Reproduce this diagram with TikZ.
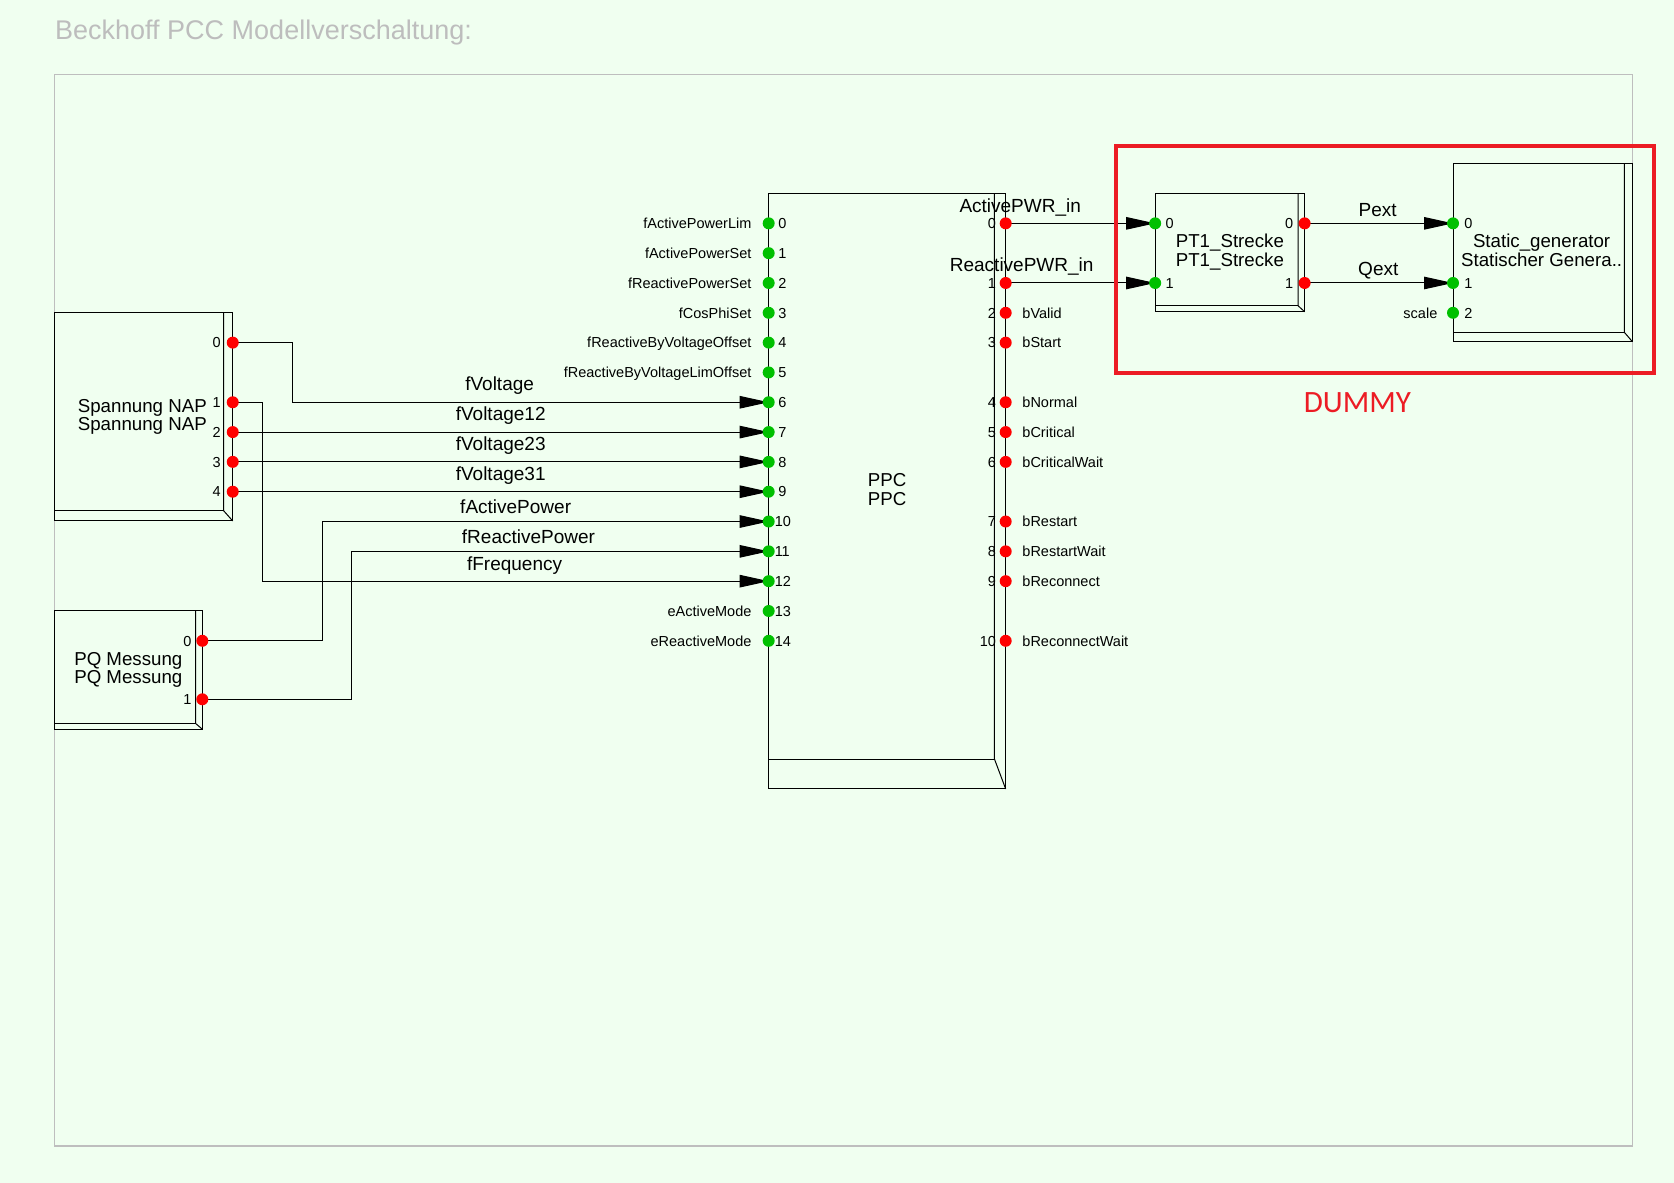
\documentclass[tikz,border=0pt]{standalone}
\usepackage{fontspec}
\setmainfont{Liberation Sans}
\newfontfamily\dummyfont{Carlito}
\usetikzlibrary{arrows.meta}
\definecolor{bgc}{HTML}{F0FFF0}
\definecolor{framegray}{HTML}{BEBEBE}
\definecolor{titlegray}{HTML}{BDBDBD}
\definecolor{pgreen}{HTML}{00C000}
\definecolor{pred}{HTML}{FF0000}
\definecolor{dred}{HTML}{EC1C24}
\tikzset{
  blk/.style={draw=black, line width=1pt},
  conn/.style={draw=black, line width=1pt},
  arr/.style={-{Triangle[length=29pt,width=12.5pt]}},
  pnum/.style={font=\fontsize{14.5}{17}\selectfont, inner sep=0pt, text=black},
  blab/.style={font=\fontsize{18.7}{21}\selectfont, inner sep=0pt, anchor=base, text=black},
  clab/.style={font=\fontsize{19}{22}\selectfont, inner sep=0pt, anchor=base, text=black},
}
\newcommand{\bevelbox}[6]{%
  \draw[blk] (#1,#2) rectangle (#3,#4);
  \draw[blk] ({#3-#5},#2) -- ({#3-#5},{#4-#6}) -- (#3,#4);
  \draw[blk] (#1,{#4-#6}) -- ({#3-#5},{#4-#6});
}
\newcommand{\py}[1]{209.2+27.93*#1}
\begin{document}
\begin{tikzpicture}[x=1.0676pt,y=-1.0676pt]
\fill[bgc] (0,0) rectangle (1568,1108);
\useasboundingbox (0,0) rectangle (1568,1108);

% title and frame
\node[font=\fontsize{27}{30}\selectfont, text=titlegray, inner sep=0pt, anchor=base west] (title) at (51.5,37) {Beckhoff PCC Modellverschaltung:};
\draw[framegray, line width=1.3pt] (51,70) rectangle (1529,1073.5);

% ports
\foreach \i in {0,...,14} \coordinate (ppc-i\i) at (720,{\py{\i}});
\foreach \o/\i in {0/0,1/2,2/3,3/4,4/6,5/7,6/8,7/10,8/11,9/12,10/14} \coordinate (ppc-o\o) at (942,{\py{\i}});
\foreach \o/\i in {0/4,1/6,2/7,3/8,4/9} \coordinate (nap-o\o) at (218,{\py{\i}});
\coordinate (pq-o0) at (189.5,{\py{14}});
\coordinate (pq-o1) at (189.5,655);
\coordinate (pt1-i0) at (1082,{\py{0}});
\coordinate (pt1-i1) at (1082,{\py{2}});
\coordinate (pt1-o0) at (1222,{\py{0}});
\coordinate (pt1-o1) at (1222,{\py{2}});
\coordinate (sg-i0) at (1361,{\py{0}});
\coordinate (sg-i1) at (1361,{\py{2}});
\coordinate (sg-i2) at (1361,{\py{3}});

% blocks
\bevelbox{51}{293}{218}{488}{8.5}{9.6}
\bevelbox{51}{572}{189.5}{683}{6.2}{5.3}
\bevelbox{720}{181}{942}{739}{10.5}{28}
\bevelbox{1082}{181}{1222}{292}{6}{5.5}
\bevelbox{1361}{153}{1529}{320}{7.5}{8.7}

% block labels
\node[blab] (nap-l1) at (133.3,386) {Spannung NAP};
\node[blab] (nap-l2) at (133.3,403.5) {Spannung NAP};
\node[blab] (pq-l1) at (120.2,623) {PQ Messung};
\node[blab] (pq-l2) at (120.2,640.5) {PQ Messung};
\node[blab] (ppc-l1) at (831,455.5) {PPC};
\node[blab] (ppc-l2) at (831,473.5) {PPC};
\node[blab] (pt1-l1) at (1152,232) {PT1\_Strecke};
\node[blab] (pt1-l2) at (1152,250) {PT1\_Strecke};
\node[blab] (sg-l1) at (1444,232) {Static\_generator};
\node[blab] (sg-l2) at (1444,250) {Statischer Genera..};

% connectors
\draw[conn,arr] (nap-o0) -- ++(56,0) |- (ppc-i6);
\draw[conn,arr] (nap-o1) -- ++(28,0) |- (ppc-i12);
\draw[conn,arr] (nap-o2) -- (ppc-i7);
\draw[conn,arr] (nap-o3) -- (ppc-i8);
\draw[conn,arr] (nap-o4) -- (ppc-i9);
\draw[conn,arr] (pq-o0) -- ++(112.5,0) |- (ppc-i10);
\draw[conn,arr] (pq-o1) -- ++(139.5,0) |- (ppc-i11);
\draw[conn,arr] (ppc-o0) -- (pt1-i0);
\draw[conn,arr] (ppc-o1) -- (pt1-i1);
\draw[conn,arr] (pt1-o0) -- (sg-i0);
\draw[conn,arr] (pt1-o1) -- (sg-i1);

% connector labels
\node[clab] (lab-fv) at (468,366) {fVoltage};
\node[clab] (lab-fv12) at (469,394) {fVoltage12};
\node[clab] (lab-fv23) at (469,422) {fVoltage23};
\node[clab] (lab-fv31) at (469,450) {fVoltage31};
\node[clab] (lab-fap) at (483,481) {fActivePower};
\node[clab] (lab-frp) at (495,509) {fReactivePower};
\node[clab] (lab-ff) at (482,534) {fFrequency};
\node[clab] (lab-apwr) at (955.6,199) {ActivePWR\_in};
\node[clab] (lab-rpwr) at (957,254) {ReactivePWR\_in};
\node[clab] (lab-pext) at (1290.5,203) {Pext};
\node[clab] (lab-qext) at (1291,258) {Qext};

% dots
\foreach \i in {0,...,14} \fill[pgreen] (ppc-i\i) circle[radius=6pt];
\foreach \o in {0,...,10} \fill[pred] (ppc-o\o) circle[radius=6pt];
\foreach \o in {0,...,4} \fill[pred] (nap-o\o) circle[radius=6pt];
\foreach \o in {0,1} {
  \fill[pred] (pq-o\o) circle[radius=6pt];
  \fill[pgreen] (pt1-i\o) circle[radius=6pt];
  \fill[pred] (pt1-o\o) circle[radius=6pt];
}
\foreach \i in {0,1,2} \fill[pgreen] (sg-i\i) circle[radius=6pt];

% PPC input port labels
\foreach \i/\nm in {0/fActivePowerLim,1/fActivePowerSet,2/fReactivePowerSet,3/fCosPhiSet,4/fReactiveByVoltageOffset,5/fReactiveByVoltageLimOffset,13/eActiveMode,14/eReactiveMode}
  \node[pnum,anchor=base east] (ppc-in\i) at (704,{\py{\i}+4.9}) {\nm};
\foreach \i in {0,...,9}
  \node[pnum,anchor=base west] (ppc-inum\i) at (729,{\py{\i}+4.9}) {\i};
\foreach \i in {10,...,14}
  \node[pnum,anchor=base west] (ppc-inum\i) at (725.5,{\py{\i}+4.9}) {\i};
% PPC output port labels
\foreach \o/\i in {0/0,1/2,2/3,3/4,4/6,5/7,6/8,7/10,8/11,9/12,10/14}
  \node[pnum,anchor=base east] (ppc-onum\o) at (933,{\py{\i}+4.9}) {\o};
\foreach \o/\i/\nm in {2/3/bValid,3/4/bStart,4/6/bNormal,5/7/bCritical,6/8/bCriticalWait,7/10/bRestart,8/11/bRestartWait,9/12/bReconnect,10/14/bReconnectWait}
  \node[pnum,anchor=base west] (ppc-on\o) at (957.5,{\py{\i}+4.9}) {\nm};
% NAP / PQ numbers
\foreach \o/\i in {0/4,1/6,2/7,3/8,4/9}
  \node[pnum,anchor=base east] (nap-num\o) at (207,{\py{\i}+4.9}) {\o};
\node[pnum,anchor=base east] (pq-num0) at (179.5,{\py{14}+4.9}) {0};
\node[pnum,anchor=base east] (pq-num1) at (179.5,{655+4.9}) {1};
% PT1 / SG numbers
\node[pnum,anchor=base west] (pt1-inum0) at (1091.5,{\py{0}+4.9}) {0};
\node[pnum,anchor=base west] (pt1-inum1) at (1091.5,{\py{2}+4.9}) {1};
\node[pnum,anchor=base east] (pt1-onum0) at (1211.5,{\py{0}+4.9}) {0};
\node[pnum,anchor=base east] (pt1-onum1) at (1211.5,{\py{2}+4.9}) {1};
\node[pnum,anchor=base west] (sg-inum0) at (1371.5,{\py{0}+4.9}) {0};
\node[pnum,anchor=base west] (sg-inum1) at (1371.5,{\py{2}+4.9}) {1};
\node[pnum,anchor=base west] (sg-inum2) at (1371.5,{\py{3}+4.9}) {2};
\node[pnum,anchor=base east] (sg-in2) at (1346.5,{\py{3}+4.9}) {scale};

% dummy frame
\draw[dred, line width=4.3pt] (1045,136.5) rectangle (1549,349.5);
\node[font=\dummyfont\fontsize{31}{34}\selectfont, text=dred, inner sep=0pt, anchor=base] (dummy) at (1271.5,386.5) {DUMMY};
\end{tikzpicture}
\end{document}
